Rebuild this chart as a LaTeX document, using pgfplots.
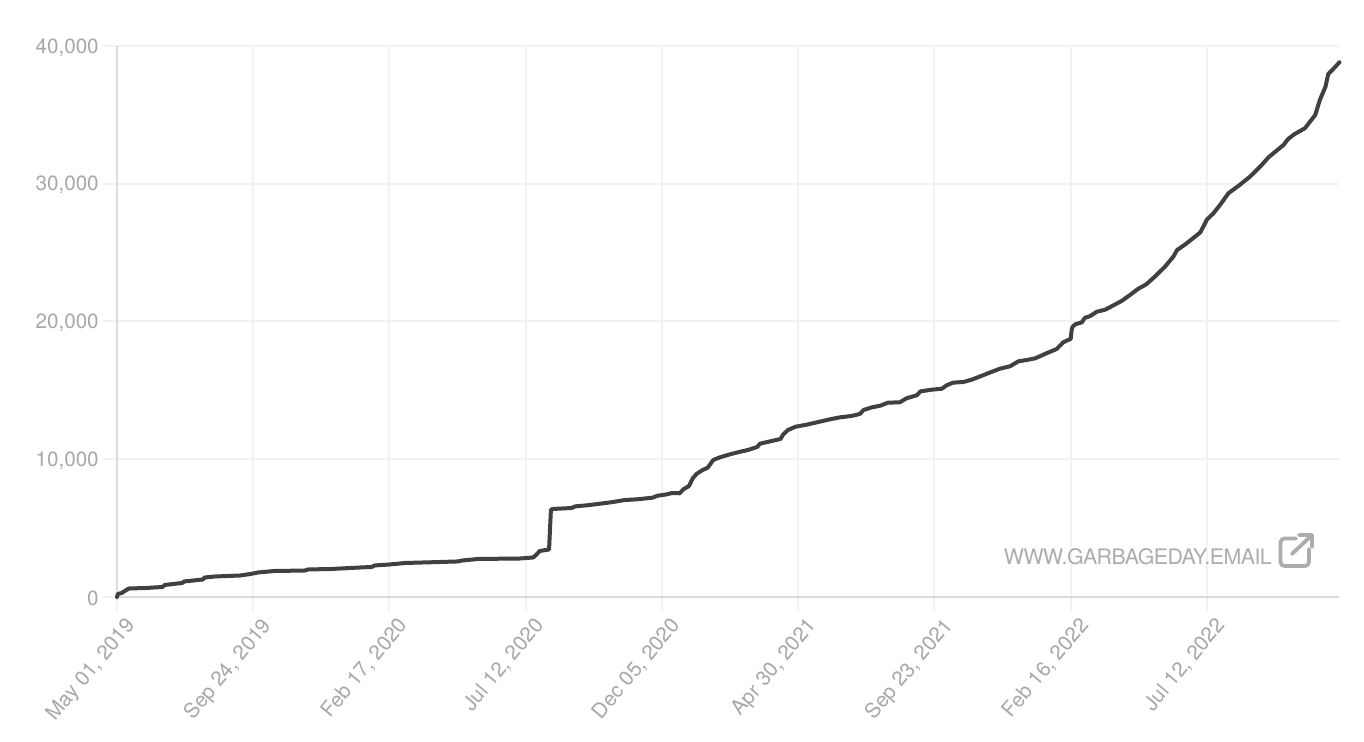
\documentclass[border=0pt]{standalone}
\usepackage{pgfplots}
\pgfplotsset{compat=1.18}
\usepackage{fontspec}
\setmainfont{TeX Gyre Heros}
\newfontfamily\wmfont[LetterSpace=-2.5]{TeX Gyre Heros}
\definecolor{lbl}{HTML}{A8A8A8}
\definecolor{grd}{HTML}{F2F2F2}
\definecolor{axl}{HTML}{DCDCDC}
\definecolor{ln}{HTML}{404040}
\definecolor{wm}{HTML}{ACACAC}
\begin{document}
\begin{tikzpicture}
\begin{scope}[x=.75pt,y=-.75pt,shift={(-87.75pt,447.75pt)}]
\useasboundingbox (0,0) rectangle (1364,742);
\fill[white] (0,0) rectangle (1364,742);
\end{scope}
\begin{axis}[
  scale only axis, width=916.5pt, height=413.25pt,
  at={(0,0)}, anchor=south west,
  xmin=0, xmax=1309.5, ymin=0, ymax=40000,
  axis lines=left, axis line style={draw=axl, line width=1.3pt, -},
  xtick={0,146,292,438,584,730,876,1022,1168},
  xticklabels={{May 01, 2019},{Sep 24, 2019},{Feb 17, 2020},{Jul 12, 2020},{Dec 05, 2020},{Apr 30, 2021},{Sep 23, 2021},{Feb 16, 2022},{Jul 12, 2022}},
  ytick={0,10000,20000,30000,40000},
  scaled y ticks=false,
  /pgf/number format/1000 sep={,},
  /pgf/number format/assume math mode=true,
  grid=major, grid style={draw=grd, line width=1.5pt},
  major tick length=10.5pt, tick align=outside,
  tick style={draw=grd, line width=1.5pt},
  every tick label/.append style={text=lbl, font=\fontsize{15.5}{15.5}\selectfont},
  x tick label style={rotate=50, anchor=north east, inner sep=1pt, xshift=1.6pt, yshift=-5.5pt},
  y tick label style={inner sep=1pt, xshift=-2pt, yshift=-1pt},
  clip=false,
]
\addplot[ln, line width=3pt, line join=round, line cap=round] table {
x y
0 0
1 220
5 290
10 510
13 620
30 650
49 730
51 870
70 1020
72 1130
92 1270
94 1415
105 1490
132 1560
143 1670
151 1780
169 1890
201 1920
205 2000
228 2030
260 2140
273 2180
276 2290
292 2360
309 2470
346 2540
365 2580
370 2650
387 2760
432 2795
446 2870
449 3050
453 3340
463 3450
465 6340
467 6390
487 6460
491 6580
504 6660
518 6775
532 6900
544 7040
557 7090
574 7210
579 7350
589 7450
595 7550
603 7530
607 7820
613 8060
617 8620
621 8930
627 9200
633 9390
639 9950
646 10140
657 10360
668 10550
676 10670
686 10890
689 11130
700 11300
711 11470
714 11810
719 12120
727 12360
739 12510
750 12680
764 12900
775 13045
787 13140
796 13285
800 13576
809 13770
818 13890
826 14105
839 14135
846 14425
857 14640
861 14930
873 15050
884 15120
889 15370
896 15560
907 15610
916 15780
927 16070
936 16310
946 16570
957 16750
966 17110
975 17205
984 17330
996 17690
1007 18005
1014 18490
1022 18740
1023 19380
1024 19620
1027 19800
1034 19940
1037 20255
1043 20400
1050 20710
1059 20860
1068 21180
1077 21510
1086 21950
1094 22360
1103 22700
1112 23250
1123 23980
1132 24710
1136 25190
1145 25610
1153 26040
1161 26480
1168 27400
1175 27860
1182 28460
1191 29310
1203 29910
1214 30510
1225 31240
1234 31920
1250 32815
1255 33250
1262 33610
1273 34030
1284 34990
1289 36080
1295 37050
1298 37970
1303 38310
1310 38820
};
\end{axis}
\begin{scope}[x=.75pt,y=-.75pt,shift={(-87.75pt,447.75pt)}]
\node[anchor=east, inner sep=0pt, text=wm, font=\wmfont\fontsize{16}{16}\selectfont] at (1272,556.5) {WWW.GARBAGEDAY.EMAIL};
\draw[wm, line width=2.8pt, line cap=round, line join=round, rounded corners=3pt]
  (1296,538.5) -- (1280.5,538.5) -- (1280.5,566) -- (1309,566) -- (1309,549);
\draw[wm, line width=2.8pt, line cap=round, line join=round]
  (1292,554) -- (1312,535) (1299,535) -- (1312,535) -- (1312,547);
\end{scope}
\end{tikzpicture}
\end{document}
